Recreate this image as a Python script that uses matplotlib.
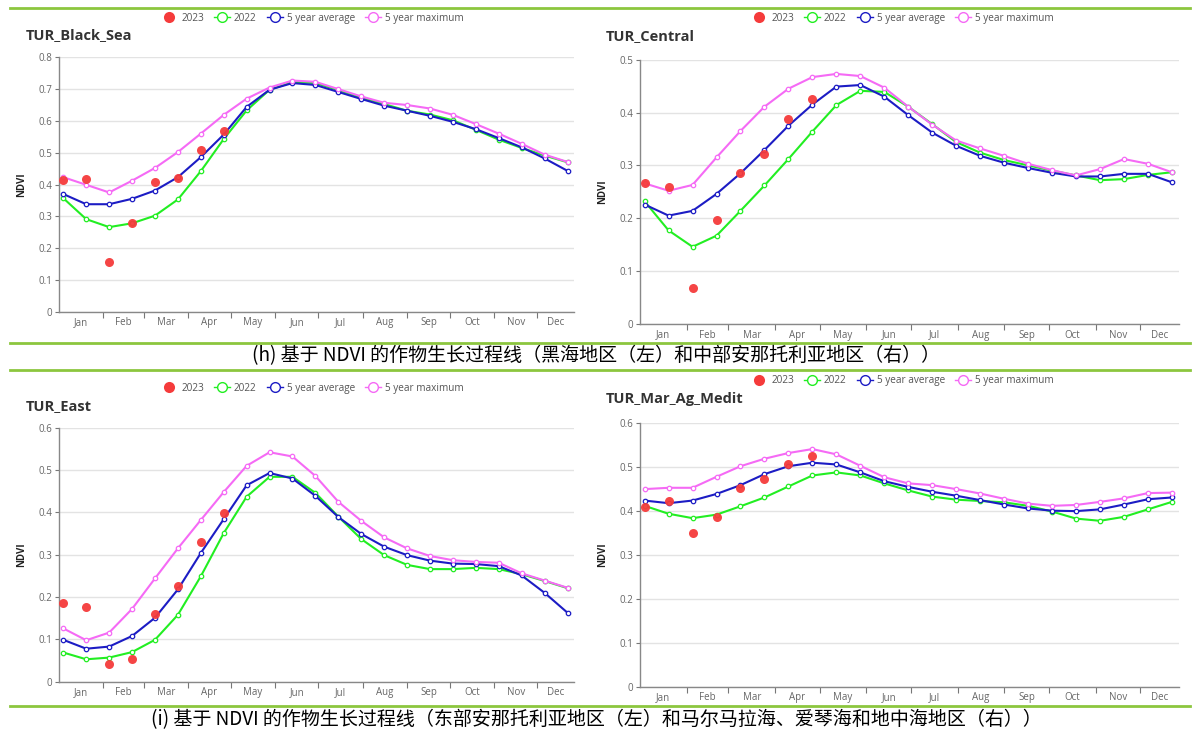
import matplotlib.pyplot as plt
from matplotlib.lines import Line2D
from matplotlib.ticker import FuncFormatter

plt.rcParams['font.family'] = ['Open Sans', 'DejaVu Sans']

# 16-day composite dates (day of year)
days = [3, 19, 35, 51, 67, 83, 99, 115, 131, 147, 163, 179, 195, 211, 227, 243,
        259, 275, 291, 307, 323, 339, 355]
month_starts = [0, 31, 59, 90, 120, 151, 181, 212, 243, 273, 304, 334]
month_names = ['Jan', 'Feb', 'Mar', 'Apr', 'May', 'Jun', 'Jul', 'Aug', 'Sep', 'Oct', 'Nov', 'Dec']

# TUR_Black_Sea
bs_2023 = [0.413, 0.417, 0.157, 0.278, 0.408, 0.420, 0.509, 0.569]
bs_2022 = [0.357, 0.291, 0.266, 0.278, 0.302, 0.353, 0.442, 0.543, 0.633, 0.698, 0.722, 0.719,
           0.697, 0.673, 0.653, 0.632, 0.620, 0.602, 0.572, 0.541, 0.515, 0.491, 0.470]
bs_avg = [0.370, 0.338, 0.338, 0.355, 0.381, 0.423, 0.486, 0.557, 0.644, 0.698, 0.719, 0.713,
          0.691, 0.669, 0.648, 0.632, 0.616, 0.597, 0.574, 0.546, 0.517, 0.482, 0.443]
bs_max = [0.423, 0.399, 0.375, 0.412, 0.452, 0.502, 0.560, 0.619, 0.670, 0.705, 0.727, 0.723,
          0.700, 0.677, 0.657, 0.650, 0.639, 0.619, 0.590, 0.560, 0.528, 0.494, 0.471]

# TUR_Central
ce_2023 = [0.266, 0.259, 0.069, 0.196, 0.285, 0.321, 0.388, 0.426]
ce_2022 = [0.232, 0.177, 0.146, 0.167, 0.214, 0.262, 0.312, 0.364, 0.414, 0.441, 0.439, 0.411,
           0.378, 0.344, 0.324, 0.310, 0.300, 0.290, 0.281, 0.272, 0.274, 0.282, 0.287]
ce_avg = [0.226, 0.205, 0.214, 0.246, 0.285, 0.329, 0.375, 0.415, 0.449, 0.452, 0.430, 0.395,
          0.362, 0.337, 0.318, 0.305, 0.295, 0.286, 0.279, 0.279, 0.284, 0.284, 0.268]
ce_max = [0.266, 0.252, 0.263, 0.315, 0.365, 0.411, 0.445, 0.467, 0.473, 0.469, 0.447, 0.411,
          0.377, 0.347, 0.332, 0.318, 0.303, 0.291, 0.281, 0.293, 0.312, 0.303, 0.287]

# TUR_East
ea_2023 = [0.187, 0.176, 0.042, 0.053, 0.159, 0.225, 0.329, 0.399]
ea_2022 = [0.069, 0.053, 0.057, 0.070, 0.099, 0.158, 0.249, 0.351, 0.437, 0.484, 0.484, 0.446,
           0.390, 0.337, 0.299, 0.276, 0.266, 0.266, 0.269, 0.266, 0.254, 0.238, 0.221]
ea_avg = [0.099, 0.078, 0.083, 0.108, 0.151, 0.218, 0.304, 0.384, 0.464, 0.493, 0.480, 0.439,
          0.389, 0.349, 0.319, 0.299, 0.286, 0.279, 0.278, 0.273, 0.251, 0.210, 0.163]
ea_max = [0.126, 0.098, 0.116, 0.172, 0.244, 0.315, 0.382, 0.448, 0.510, 0.542, 0.532, 0.486,
          0.425, 0.380, 0.341, 0.315, 0.297, 0.287, 0.283, 0.281, 0.256, 0.239, 0.222]

# TUR_Mar_Ag_Medit
me_2023 = [0.409, 0.423, 0.349, 0.386, 0.452, 0.472, 0.505, 0.525]
me_2022 = [0.411, 0.393, 0.383, 0.391, 0.410, 0.430, 0.455, 0.480, 0.487, 0.480, 0.462, 0.446,
           0.432, 0.425, 0.422, 0.419, 0.411, 0.398, 0.382, 0.377, 0.386, 0.403, 0.420]
me_avg = [0.423, 0.417, 0.423, 0.438, 0.458, 0.483, 0.501, 0.509, 0.505, 0.487, 0.467, 0.454,
          0.443, 0.434, 0.424, 0.414, 0.405, 0.400, 0.399, 0.403, 0.414, 0.426, 0.430]
me_max = [0.449, 0.452, 0.452, 0.477, 0.501, 0.518, 0.531, 0.540, 0.528, 0.502, 0.476, 0.462,
          0.458, 0.449, 0.439, 0.427, 0.416, 0.411, 0.413, 0.420, 0.428, 0.440, 0.441]

caption_h = '(h) 基于 NDVI 的作物生长过程线（黑海地区（左）和中部安那托利亚地区（右））'
caption_i = '(i) 基于 NDVI 的作物生长过程线（东部安那托利亚地区（左）和马尔马拉海、爱琴海和地中海地区（右））'

C_RED = '#f53b3b'
C_GREEN = '#22ee22'
C_BLUE = '#1c1cc4'
C_MAG = '#f56af5'
SEP = '#8cc63e'

panels = [
    ('TUR_Black_Sea', [0.0495, 0.5736, 0.432, 0.348], 0.8, (0.0218, 0.952), (0.262, 0.975),
     bs_2023, bs_2022, bs_avg, bs_max),
    ('TUR_Central', [0.537, 0.5568, 0.4518, 0.3616], 0.5, (0.508, 0.951), (0.757, 0.975),
     ce_2023, ce_2022, ce_avg, ce_max),
    ('TUR_East', [0.0495, 0.0674, 0.432, 0.3475], 0.6, (0.0218, 0.4446), (0.262, 0.469),
     ea_2023, ea_2022, ea_avg, ea_max),
    ('TUR_Mar_Ag_Medit', [0.537, 0.0606, 0.4518, 0.3612], 0.6, (0.508, 0.4538), (0.757, 0.479),
     me_2023, me_2022, me_avg, me_max),
]

fig = plt.figure(figsize=(11.92, 7.31), dpi=100)

xmax = 359.5
label_pos = []
bounds = month_starts + [xmax]
for i in range(12):
    label_pos.append((bounds[i] + bounds[i + 1]) / 2)

line_kw = dict(lw=1.5, marker='o', ms=3.2, mfc='white', mew=0.9)

for title, rect, ymax, tpos, lpos, d23, d22, davg, dmax in panels:
    ax = fig.add_axes(rect)
    ax.plot(days, d22, color=C_GREEN, zorder=3, **line_kw)
    ax.plot(days, davg, color=C_BLUE, zorder=4, **line_kw)
    ax.plot(days, dmax, color=C_MAG, zorder=5, **line_kw)
    ax.plot(days[:len(d23)], d23, 'o', color=C_RED, ms=6.5, mew=0, alpha=0.95, zorder=6)

    ax.set_xlim(0, xmax)
    ax.set_ylim(0, ymax)
    ax.set_yticks([v / 10 for v in range(int(round(ymax * 10)) + 1)])
    ax.yaxis.set_major_formatter(FuncFormatter(lambda v, _: '0' if v == 0 else f'{v:.1f}'))
    ax.set_xticks(month_starts[1:])
    ax.set_xticklabels([])
    ax.set_xticks(label_pos, minor=True)
    ax.set_xticklabels(month_names, minor=True)
    ax.tick_params(axis='x', which='major', length=4, color='#777777')
    ax.tick_params(axis='x', which='minor', length=0, pad=4, labelsize=7, labelcolor='#666666')
    ax.tick_params(axis='y', length=3, color='#777777', labelsize=7, labelcolor='#666666', pad=2)
    ax.grid(axis='y', color='#e3e3e3', lw=1)
    ax.set_axisbelow(True)
    for s in ['top', 'right']:
        ax.spines[s].set_visible(False)
    for s in ['left', 'bottom']:
        ax.spines[s].set_color('#888888')
        ax.spines[s].set_linewidth(1)
    ax.set_ylabel('NDVI', fontsize=7, fontweight='bold', color='#222222', labelpad=8)

    fig.text(tpos[0], tpos[1], title, fontsize=10.5, fontweight='bold', color='#333333',
             va='center', ha='left')

    handles = [
        Line2D([], [], ls='none', marker='o', color=C_RED, ms=8, mew=0),
        Line2D([], [], color=C_GREEN, lw=1, marker='o', ms=7, mfc='white', mew=1),
        Line2D([], [], color=C_BLUE, lw=1, marker='o', ms=7, mfc='white', mew=1),
        Line2D([], [], color=C_MAG, lw=1, marker='o', ms=7, mfc='white', mew=1),
    ]
    fig.legend(handles, ['2023', '2022', '5 year average', '5 year maximum'],
               loc='center', bbox_to_anchor=lpos, ncol=4, frameon=False,
               fontsize=7.2, labelcolor='#555555', handlelength=1.6,
               handletextpad=0.4, columnspacing=1.0, borderpad=0)

# separators and captions
for yy in [8, 343, 370, 706]:
    fig.add_artist(Line2D([0.008, 0.998], [1 - yy / 731, 1 - yy / 731], color=SEP, lw=2))

fig.text(0.5, 1 - 356 / 731, caption_h, ha='center', va='center', fontsize=13.7,
         family=['Noto Sans CJK SC', 'DejaVu Sans'])
fig.text(0.5, 1 - 720 / 731, caption_i, ha='center', va='center', fontsize=13.7,
         family=['Noto Sans CJK SC', 'DejaVu Sans'])

fig.savefig('out.png', dpi=100)
